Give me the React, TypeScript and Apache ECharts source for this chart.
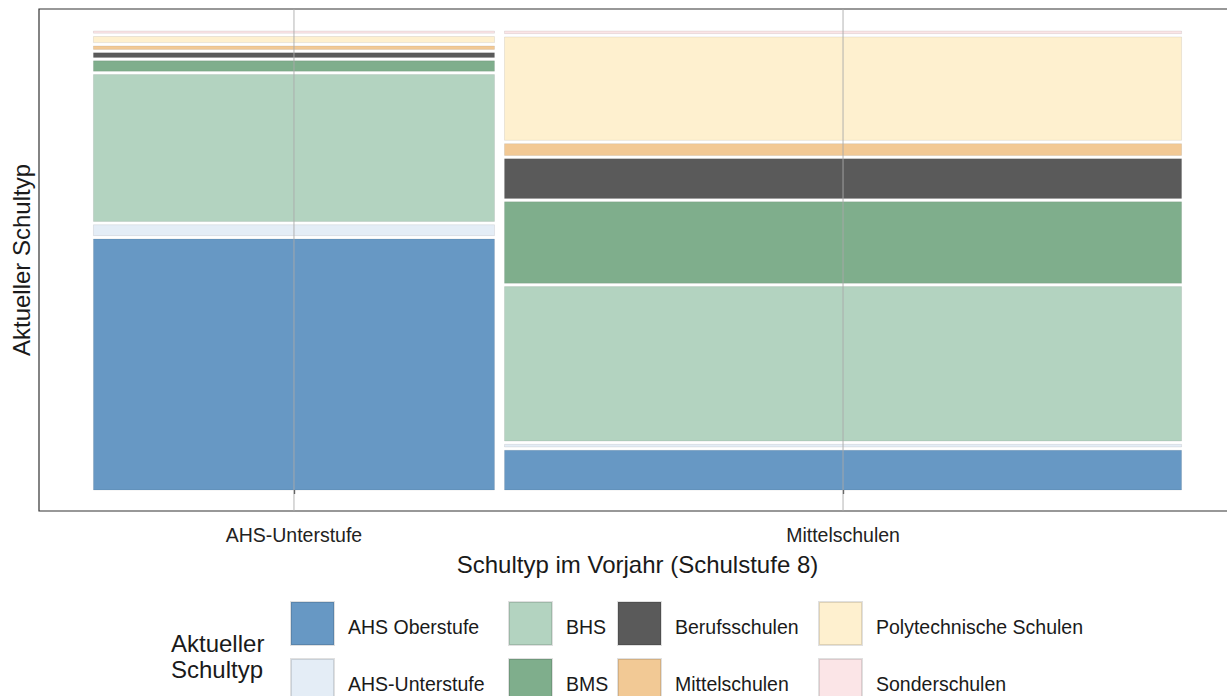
import React, { useEffect, useRef } from "react";
import * as echarts from "echarts";

// ---- data ----
const categories = ["AHS-Unterstufe", "Mittelschulen"]; // Schultyp im Vorjahr
const columnShare = [37.2, 62.8]; // share of pupils per previous school type (%)
const schoolTypes = [
  "AHS Oberstufe",
  "AHS-Unterstufe",
  "BHS",
  "BMS",
  "Berufsschulen",
  "Mittelschulen",
  "Polytechnische Schulen",
  "Sonderschulen",
];
// share of current school type within each column (%), same order as schoolTypes
const sharesFromAHS = [57.6, 2.5, 33.7, 2.4, 1.1, 0.8, 1.4, 0.5];
const sharesFromMS = [9.1, 0.6, 35.4, 18.7, 9.1, 2.7, 23.7, 0.6];
const colors = [
  "#6798C4",
  "#E4EDF6",
  "#B3D3C0",
  "#7FAE8C",
  "#5A5A5A",
  "#F2C995",
  "#FEF0CF",
  "#FBE5E7",
];

const FONT = "Liberation Sans, Arial, Helvetica, sans-serif";
const Y_MIN = -0.0458;
const Y_MAX = 1.048;

export default function App() {
  const ref = useRef<HTMLDivElement>(null);

  useEffect(() => {
    if (!ref.current) return;
    const chart = echarts.init(ref.current, undefined, { renderer: "svg" });

    const columnShares = [sharesFromAHS, sharesFromMS];
    const GAP_X = 0.0092;
    const GAP_Y = 0.0072;
    const totalCol = columnShare.reduce((a, b) => a + b, 0);
    const usableX = 1 - GAP_X * (categories.length - 1);

    // column boundaries in data units
    const colBounds: [number, number][] = [];
    let cx = 0;
    columnShare.forEach((v) => {
      const w = (v / totalCol) * usableX;
      colBounds.push([cx, cx + w]);
      cx += w + GAP_X;
    });
    const centers = colBounds.map(([a, b]) => (a + b) / 2);

    // segment boundaries
    const seriesData: number[][][] = schoolTypes.map(() => []);
    columnShares.forEach((shares, c) => {
      const tot = shares.reduce((a, b) => a + b, 0);
      const usableY = 1 - GAP_Y * (shares.length - 1);
      let y = 0;
      shares.forEach((v, s) => {
        const h = (v / tot) * usableY;
        seriesData[s].push([colBounds[c][0], colBounds[c][1], y, y + h, c]);
        y += h + GAP_Y;
      });
    });

    const series: any[] = schoolTypes.map((name, s) => ({
      type: "custom",
      name,
      itemStyle: {
        color: colors[s],
        borderColor: "rgba(0,0,0,0.12)",
        borderWidth: 0.8,
      },
      encode: { x: [0, 1], y: [2, 3] },
      data: seriesData[s],
      renderItem: (params: any, api: any) => {
        const p0 = api.coord([api.value(0), api.value(3)]);
        const p1 = api.coord([api.value(1), api.value(2)]);
        return {
          type: "rect",
          shape: { x: p0[0], y: p0[1], width: p1[0] - p0[0], height: p1[1] - p0[1] },
          style: {
            fill: colors[s],
            stroke: "rgba(0,0,0,0.10)",
            lineWidth: 0.8,
          },
        };
      },
      z: 2,
    }));

    // vertical grid lines at the column centres
    series.push({
      type: "custom",
      name: "grid",
      silent: true,
      z: 5,
      encode: { x: 0 },
      data: centers.map((c) => [c]),
      renderItem: (params: any, api: any) => {
        const a = api.coord([api.value(0), Y_MIN]);
        const b = api.coord([api.value(0), Y_MAX]);
        return {
          type: "line",
          shape: { x1: a[0], y1: a[1], x2: b[0], y2: b[1] },
          style: { stroke: "rgba(170,170,170,0.55)", lineWidth: 1.6 },
        };
      },
    });

    const legendCols = [
      { left: 290, items: [schoolTypes[0], schoolTypes[1]] },
      { left: 508, items: [schoolTypes[2], schoolTypes[3]] },
      { left: 617, items: [schoolTypes[4], schoolTypes[5]] },
      { left: 818, items: [schoolTypes[6], schoolTypes[7]] },
    ];

    chart.setOption({
      animation: false,
      backgroundColor: "#ffffff",
      textStyle: { fontFamily: FONT },
      title: {
        text: "Aktueller\nSchultyp",
        left: 171,
        top: 630,
        padding: 0,
        textStyle: {
          fontFamily: FONT,
          fontSize: 24,
          fontWeight: "normal",
          color: "#1a1a1a",
          lineHeight: 26,
        },
      },
      legend: legendCols.map((col) => ({
        orient: "vertical",
        left: col.left,
        top: 601,
        height: 140,
        padding: 0,
        itemWidth: 43,
        itemHeight: 43,
        itemGap: 12,
        icon: "rect",
        selectedMode: false,
        data: col.items,
        formatter: (name: string) => `{t|${name}}`,
        textStyle: {
          fontFamily: FONT,
          fontSize: 19.5,
          color: "#1a1a1a",
          padding: [0, 0, 0, 9],
          rich: {
            t: {
              fontFamily: FONT,
              fontSize: 19.5,
              color: "#1a1a1a",
              padding: [7, 0, 0, 0],
            },
          },
        },
      })),
      grid: {
        left: 39,
        top: 9,
        width: 1197,
        height: 502,
        outerBoundsMode: "none",
        containLabel: false,
        show: true,
        borderColor: "#333333",
        borderWidth: 1.2,
        backgroundColor: "transparent",
      },
      xAxis: {
        type: "value",
        min: -0.05,
        max: 1.05,
        name: "Schultyp im Vorjahr (Schulstufe 8)",
        nameLocation: "middle",
        nameGap: 41,
        nameTextStyle: { fontFamily: FONT, fontSize: 24, color: "#1a1a1a" },
        axisLine: { show: false },
        axisTick: {
          show: true,
          length: 4,
          lineStyle: { color: "#333333", width: 1.3 },
          customValues: centers,
        },
        axisLabel: {
          show: true,
          margin: 14,
          fontFamily: FONT,
          fontSize: 19.5,
          color: "#222222",
          customValues: centers,
          formatter: (v: number) => {
            let best = 0;
            centers.forEach((c, i) => {
              if (Math.abs(c - v) < Math.abs(centers[best] - v)) best = i;
            });
            return categories[best];
          },
        },
        splitLine: { show: false },
      },
      yAxis: {
        type: "value",
        min: Y_MIN,
        max: Y_MAX,
        name: "Aktueller Schultyp",
        nameLocation: "middle",
        nameRotate: 90,
        nameGap: 6,
        nameTextStyle: { fontFamily: FONT, fontSize: 24, color: "#1a1a1a" },
        axisLine: { show: false },
        axisTick: { show: false },
        axisLabel: { show: false },
        splitLine: { show: false },
      },
      series,
    });

    return () => chart.dispose();
  }, []);

  return (
    <div
      ref={ref}
      style={{ position: "absolute", left: 0, top: 0, width: 1227, height: 696 }}
    />
  );
}
